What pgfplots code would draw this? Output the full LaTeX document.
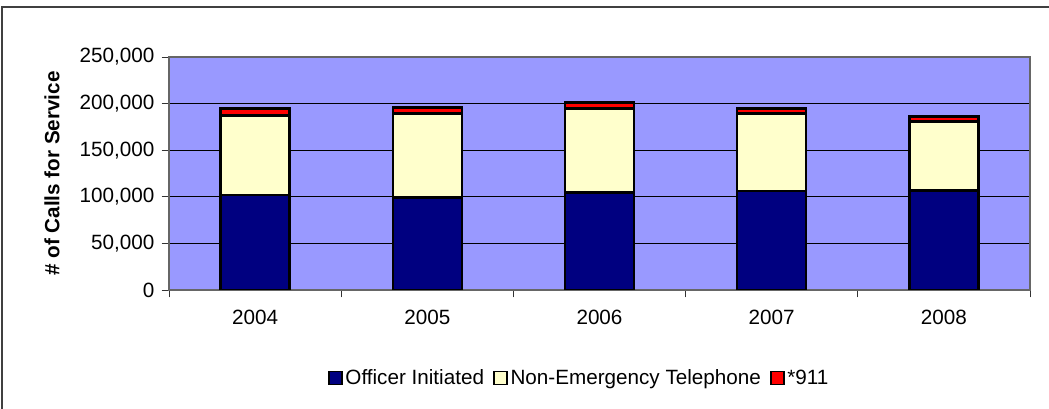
\documentclass[border=0pt]{standalone}
\usepackage{fontspec}
\setmainfont{Liberation Sans}
\usepackage{pgfplots}
\pgfplotsset{compat=1.18}
\definecolor{plotbg}{HTML}{9999FF}
\definecolor{officer}{HTML}{000080}
\definecolor{nonemerg}{HTML}{FFFFCC}
\definecolor{nineone}{HTML}{FF0000}

\begin{document}
\begin{tikzpicture}[font=\fontsize{15.5}{18}\selectfont]
% page size and the visible part of the outer chart frame (left and top)
\useasboundingbox (-126.75pt,-89.25pt) rectangle (660pt,217.5pt);
\draw[black!75, line width=1.5pt] (-124.9pt,-89.25pt) -- (-124.9pt,212.25pt) -- (660pt,212.25pt);
\begin{axis}[
  at={(0,0)}, anchor=south west,
  scale only axis,
  width=645.75pt, height=174.75pt,
  ybar stacked, bar width=51.75pt,
  xmin=-0.5, xmax=4.5,
  ymin=0, ymax=250000,
  xtick={0,1,2,3,4},
  xticklabels={2004,2005,2006,2007,2008},
  minor xtick={-0.5,0.5,1.5,2.5,3.5,4.5},
  major x tick style={draw=none},
  minor tick length=5.5pt,
  ytick={0,50000,100000,150000,200000,250000},
  major tick length=5.5pt,
  tick align=outside,
  tick style={black!80, line width=0.6pt},
  xtick pos=bottom, ytick pos=left,
  ymajorgrids,
  major grid style={black, line width=0.7pt},
  axis background/.style={fill=plotbg},
  axis line style={black!60, line width=0.8pt},
  scaled y ticks=false,
  yticklabel style={xshift=-2pt, /pgf/number format/fixed,
    /pgf/number format/1000 sep={,}, /pgf/number format/assume math mode=true},
  xticklabel style={yshift=-6pt},
  ylabel={\textbf{\# of Calls for Service}},
  ylabel style={at={(axis description cs:-0.136,0.5)}, anchor=center},
  legend style={at={(axis description cs:0.477,-0.378)}, anchor=center,
    draw=none, fill=none, legend columns=3,
    /tikz/every even column/.append style={column sep=5pt}},
  legend image code/.code={\draw[#1, draw=black, line width=1.1pt] (0pt,-4.9pt) rectangle (9.75pt,4.9pt);},
  every axis plot/.append style={draw=black, line width=1.9pt},
]
\addplot[fill=officer] coordinates {(0,102000) (1,99500) (2,104500) (3,106000) (4,107000)};
\addplot[fill=nonemerg] coordinates {(0,85500) (1,90000) (2,90000) (3,83500) (4,74000)};
\addplot[fill=nineone] coordinates {(0,7000) (1,6500) (2,6500) (3,5500) (4,5000)};
\legend{Officer Initiated,Non-Emergency Telephone,*911}
\end{axis}
\end{tikzpicture}
\end{document}
